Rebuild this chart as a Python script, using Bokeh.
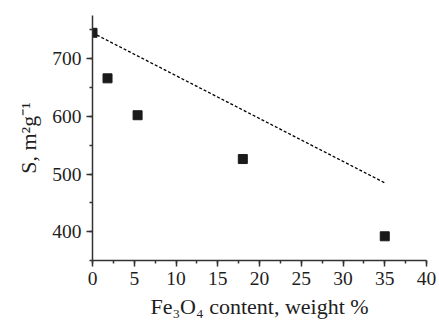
from bokeh.plotting import figure
from bokeh.models import Range1d, SingleIntervalTicker, ColumnDataSource
from bokeh.embed import file_html
from bokeh.resources import INLINE

# data
fe3o4 = [0, 1.8, 5.4, 18.0, 35.0]
surface = [745, 666, 602, 526, 392]
line_x = [0, 35.1]
line_y = [745, 484]

p = figure(width=438, height=322, output_backend="svg", toolbar_location=None,
           x_range=Range1d(0, 40), y_range=Range1d(350, 775),
           min_border_left=92, min_border_right=12, min_border_top=15, min_border_bottom=62)
p.outline_line_color = None
p.xgrid.visible = False
p.ygrid.visible = False
p.background_fill_color = "white"
p.border_fill_color = "white"

p.line(line_x, line_y, line_color="black", line_width=1.3, line_dash="3 2")
src = ColumnDataSource(dict(x=fe3o4, y=surface))
p.scatter("x", "y", source=src, marker="square", size=9, fill_color="#1a1a1a", line_color="#1a1a1a")

p.xaxis.ticker = SingleIntervalTicker(interval=5, num_minor_ticks=2)
p.yaxis.ticker = SingleIntervalTicker(interval=100, num_minor_ticks=2)

for ax in (p.xaxis[0], p.yaxis[0]):
    ax.axis_line_color = "#333333"
    ax.axis_line_width = 1.5
    ax.major_tick_line_color = "#333333"
    ax.minor_tick_line_color = "#333333"
    ax.major_tick_line_width = 1.5
    ax.minor_tick_line_width = 1.5
    ax.major_tick_out = 6
    ax.major_tick_in = 0
    ax.minor_tick_out = 3
    ax.minor_tick_in = 0
    ax.major_label_text_font = "Liberation Serif"
    ax.major_label_text_font_size = "19.5px"
    ax.major_label_text_color = "#1e1e1e"
    ax.axis_label_text_font = "Liberation Serif"
    ax.axis_label_text_font_size = "22px"
    ax.axis_label_text_font_style = "normal"
    ax.axis_label_text_color = "#1e1e1e"

p.xaxis.axis_label = "Fe\u2083O\u2084 content, weight %"
p.yaxis.axis_label = "S, m\u00b2g\u207b\u00b9"
p.xaxis.major_label_standoff = 5
p.xaxis.axis_label_standoff = 6
p.yaxis.major_label_standoff = 5
p.yaxis.axis_label_standoff = 8

open("out.html", "w").write(file_html(p, INLINE))
